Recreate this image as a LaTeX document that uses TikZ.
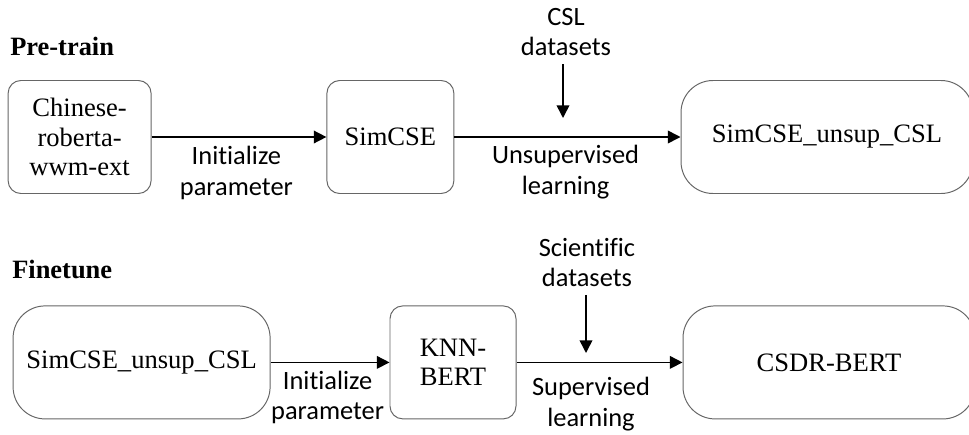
\documentclass[tikz,border=0pt]{standalone}
\usepackage{fontspec}
\setmainfont{Liberation Serif}
\newfontfamily\etiqfont[Ligatures=NoCommon]{Carlito}
\usetikzlibrary{arrows.meta}

\begin{document}
\begin{tikzpicture}
\tikzset{boite/.style={draw=black!60, line width=0.7pt, rounded corners=0.32cm, minimum height=2.825cm, inner sep=0pt, align=center, font=\fontsize{18.9}{21}\selectfont}}
\tikzset{grandeboite/.style={boite, rounded corners=0.8cm, minimum width=7.3cm}}
\tikzset{etiquette/.style={align=center, inner sep=0pt, font=\etiqfont\fontsize{18.8}{21.5}\selectfont}}
\tikzset{titre/.style={anchor=base west, inner sep=0pt, font=\bfseries\fontsize{18.8}{21}\selectfont}}
\tikzset{fleche/.style={-{Triangle[length=9pt,width=9pt]}, line width=1.1pt}}
\useasboundingbox (0,0) rectangle (24.225,-10.85);
\clip (0,0) rectangle (24.225,-10.85);
\node[titre] (T1) at (0.25,-1.375) {Pre-train};
\node[titre] (T2) at (0.3,-6.95) {Finetune};
\node[boite, minimum width=3.575cm] (B1) at (1.99,-3.425) {Chinese-\\roberta-\\wwm-ext};
\node[boite, minimum width=3.175cm] (B2) at (9.76,-3.425) {SimCSE};
\node[grandeboite] (B3) at (20.675,-3.425) {SimCSE\_unsup\_CSL};
\node[grandeboite, minimum width=6.425cm] (B4) at (3.54,-9.06) {SimCSE\_unsup\_CSL};
\node[boite, minimum width=3.15cm] (B5) at (11.325,-9.06) {KNN-\\BERT};
\node[grandeboite] (B6) at (20.725,-9.06) {CSDR-BERT};
\node[etiquette] (L1) at (5.91,-4.325) {Initialize\\parameter};
\node[etiquette] (L2) at (14.14,-4.3) {Unsupervised\\learning};
\node[etiquette] (L3) at (8.19,-9.94) {Initialize\\parameter};
\node[etiquette] (L4) at (14.775,-10.1) {Supervised\\learning};
\node[etiquette] (D1) at (14.15,-0.8) {CSL\\datasets};
\node[etiquette] (D2) at (14.675,-6.56) {Scientific\\datasets};
\coordinate (P1) at (14.075,-2.95);
\coordinate (P2) at (14.65,-8.825);
\draw[fleche] (B1) -- (B2);
\draw[fleche] (B2) -- (B3);
\draw[fleche] (B4) -- (B5);
\draw[fleche] (B5) -- (B6);
\draw[fleche] ([yshift=-0.2cm]D1.south -| P1) -- (P1);
\draw[fleche] ([yshift=-0.2cm]D2.south -| P2) -- (P2);
\end{tikzpicture}
\end{document}
